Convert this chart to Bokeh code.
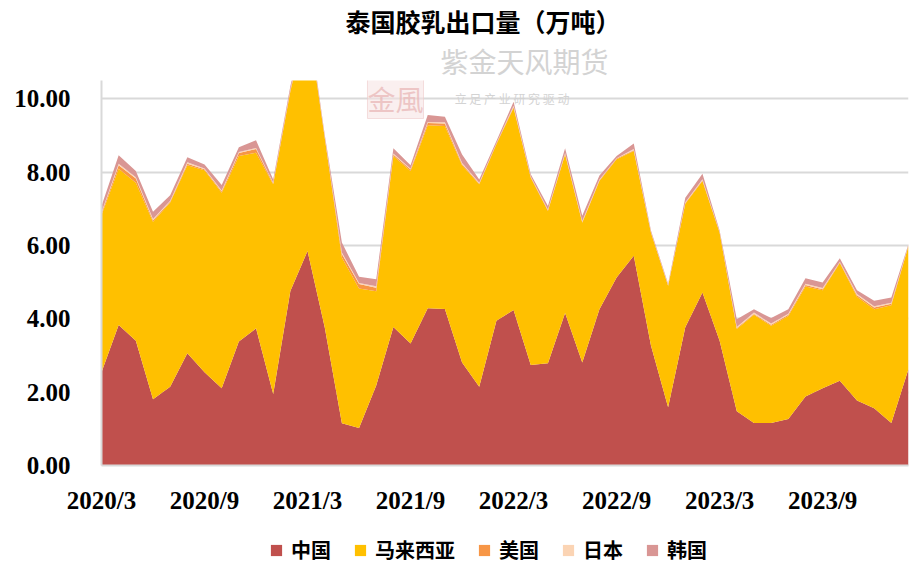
from bokeh.plotting import figure
from bokeh.layouts import column
from bokeh.models import (ColumnDataSource, FixedTicker, NumeralTickFormatter, Range1d,
                          Legend, LegendItem, Label, Title)
from bokeh.embed import file_html
from bokeh.resources import INLINE

# ---------------- data (万吨) ----------------
months = []
for y in range(2020, 2025):
    for m in range(1, 13):
        if (y == 2020 and m < 3) or (y == 2024 and m > 2):
            continue
        months.append(f"{y}/{m}")

china = [2.54, 3.83, 3.40, 1.81, 2.15, 3.06, 2.54, 2.11, 3.38, 3.74, 1.95, 4.76,
         5.85, 3.77, 1.15, 1.02, 2.18, 3.78, 3.33, 4.29, 4.27, 2.81, 2.15, 3.95,
         4.24, 2.74, 2.79, 4.16, 2.81, 4.26, 5.13, 5.72, 3.27, 1.59, 3.77, 4.72,
         3.40, 1.48, 1.16, 1.16, 1.27, 1.88, 2.11, 2.31, 1.77, 1.56, 1.16, 2.63]
malaysia = [4.29, 4.26, 4.31, 4.84, 5.02, 5.13, 5.51, 5.33, 5.06, 4.79, 5.72, 5.44,
            6.35, 5.17, 4.52, 3.81, 2.57, 4.66, 4.70, 4.99, 4.99, 5.38, 5.52, 4.81,
            5.51, 5.11, 4.15, 4.32, 3.81, 3.50, 3.22, 2.86, 3.08, 3.31, 3.37, 3.04,
            2.95, 2.24, 2.95, 2.65, 2.81, 3.00, 2.67, 3.21, 2.83, 2.70, 3.21, 3.36]
usa = [0.05, 0.10, 0.12, 0.04, 0.03, 0.04, 0.03, 0.03, 0.08, 0.10, 0.03, 0.04,
       0.04, 0.02, 0.10, 0.12, 0.10, 0.04, 0.04, 0.06, 0.07, 0.03, 0.02, 0.02,
       0.03, 0.02, 0.02, 0.02, 0.02, 0.02, 0.02, 0.02, 0.01, 0.01, 0.02, 0.02,
       0.01, 0.03, 0.02, 0.03, 0.03, 0.04, 0.03, 0.02, 0.04, 0.05, 0.04, 0.01]
japan = [0.03, 0.04, 0.03, 0.03, 0.02, 0.04, 0.02, 0.03, 0.03, 0.03, 0.02, 0.02,
         0.02, 0.01, 0.04, 0.03, 0.04, 0.03, 0.02, 0.03, 0.03, 0.03, 0.02, 0.01,
         0.03, 0.01, 0.02, 0.02, 0.03, 0.02, 0.01, 0.03, 0.01, 0.01, 0.02, 0.03,
         0.01, 0.03, 0.04, 0.03, 0.03, 0.04, 0.03, 0.02, 0.04, 0.03, 0.03, 0.01]
korea = [0.17, 0.23, 0.17, 0.20, 0.15, 0.14, 0.11, 0.15, 0.13, 0.21, 0.08, 0.09,
         0.09, 0.06, 0.27, 0.17, 0.19, 0.14, 0.10, 0.19, 0.15, 0.23, 0.09, 0.06,
         0.11, 0.06, 0.10, 0.13, 0.14, 0.11, 0.06, 0.15, 0.04, 0.04, 0.12, 0.15,
         0.04, 0.21, 0.09, 0.15, 0.12, 0.15, 0.15, 0.09, 0.10, 0.15, 0.14, 0.03]

series_names = ["中国", "马来西亚", "美国", "日本", "韩国"]
colors = ["#C0504D", "#FFC000", "#F79646", "#FBD4B4", "#D99694"]
tick_labels = ["2020/3", "2020/9", "2021/3", "2021/9", "2022/3", "2022/9", "2023/3", "2023/9"]
y_ticks = [0, 2, 4, 6, 8, 10]
title_text = "泰国胶乳出口量（万吨）"

x = list(range(len(months)))
src = ColumnDataSource(dict(x=x, 中国=china, 马来西亚=malaysia, 美国=usa, 日本=japan, 韩国=korea))

CJK = "Noto Sans CJK SC"
SERIF = "Liberation Serif"
W, MAIN_H, LEG_H = 909, 527, 37

p = figure(width=W, height=MAIN_H, output_backend="svg", toolbar_location=None,
           x_range=Range1d(0, len(months) - 1), y_range=Range1d(0, 10.5),
           min_border_left=101, min_border_right=1, min_border_top=78, min_border_bottom=MAIN_H - 465)
p.outline_line_color = None

p.varea_stack(stackers=series_names, x="x", source=src, color=colors)

# header rows (first added sits closest to the plot)
p.add_layout(Title(text="紫金天风期货", align="left", offset=339, standoff=0,
                   text_font=CJK, text_font_size="28px", text_font_style="normal",
                   text_color="#d3d3d3"), "above")
p.add_layout(Title(text=title_text, align="left", offset=244, standoff=0,
                   text_font=CJK, text_font_size="25px", text_font_style="bold",
                   text_color="black"), "above")

# watermark parts inside the plot area
px_per_x = 807 / (len(months) - 1)
px_per_y = 387 / 10.5
p.add_layout(Label(x=(395 - 101) / px_per_x, y=(465 - 75) / px_per_y,
                   text="紫天\n金風", text_align="center", text_baseline="middle",
                   text_font=CJK, text_font_size="28px", text_color="#e9b8b8", text_alpha=0.75,
                   text_line_height=1.05,
                   background_fill_color="#f6e2e2", background_fill_alpha=0.55,
                   border_line_color="#eecaca", border_line_alpha=0.6))
p.add_layout(Label(x=(525 - 101) / px_per_x, y=(465 - 96) / px_per_y,
                   text="立  足  产  业     研  究  驱  动", text_align="center",
                   text_baseline="middle", text_font=CJK, text_font_size="12px", text_color="#d3d3d3"))

# axes
p.yaxis.ticker = FixedTicker(ticks=y_ticks)
p.yaxis.formatter = NumeralTickFormatter(format="0.00")
p.yaxis.major_label_text_font = SERIF
p.yaxis.major_label_text_font_style = "bold"
p.yaxis.major_label_text_font_size = "25px"
p.yaxis.major_label_text_color = "black"
p.yaxis.major_label_standoff = 25
p.yaxis.axis_line_color = "#d9d9d9"
p.yaxis.axis_line_width = 2
p.yaxis.major_tick_line_color = None
p.yaxis.minor_tick_line_color = None

tick_pos = [i * 6 for i in range(len(tick_labels))]
p.xaxis.ticker = FixedTicker(ticks=tick_pos)
p.xaxis.major_label_overrides = {t: l for t, l in zip(tick_pos, tick_labels)}
p.xaxis.major_label_text_font = SERIF
p.xaxis.major_label_text_font_style = "bold"
p.xaxis.major_label_text_font_size = "25px"
p.xaxis.major_label_text_color = "black"
p.xaxis.major_label_standoff = 15
p.xaxis.axis_line_color = "#d9d9d9"
p.xaxis.axis_line_width = 2
p.xaxis.major_tick_line_color = None
p.xaxis.minor_tick_line_color = None

p.xgrid.grid_line_color = None
p.ygrid.grid_line_color = "#d9d9d9"
p.ygrid.grid_line_width = 2

# ---------------- legend strip ----------------
lf = figure(width=W, height=LEG_H, output_backend="svg", toolbar_location=None,
            x_range=Range1d(0, len(months) - 1), y_range=Range1d(-2, -1),
            x_axis_type=None, y_axis_type=None, min_border=0)
lf.outline_line_color = None
lf.grid.grid_line_color = None
lrs = lf.varea_stack(stackers=series_names, x="x", source=src, color=colors)
legend = Legend(items=[LegendItem(label=n, renderers=[r]) for n, r in zip(series_names, lrs)],
                orientation="horizontal", location=(168, 0),
                glyph_width=14, glyph_height=14, label_standoff=8, spacing=22,
                label_text_font=CJK, label_text_font_style="bold", label_text_font_size="20px",
                label_text_color="black", padding=0, margin=0,
                border_line_color=None, background_fill_alpha=0)
lf.add_layout(legend)

layout = column(p, lf, spacing=0)
open("out.html", "w").write(file_html(layout, INLINE))
